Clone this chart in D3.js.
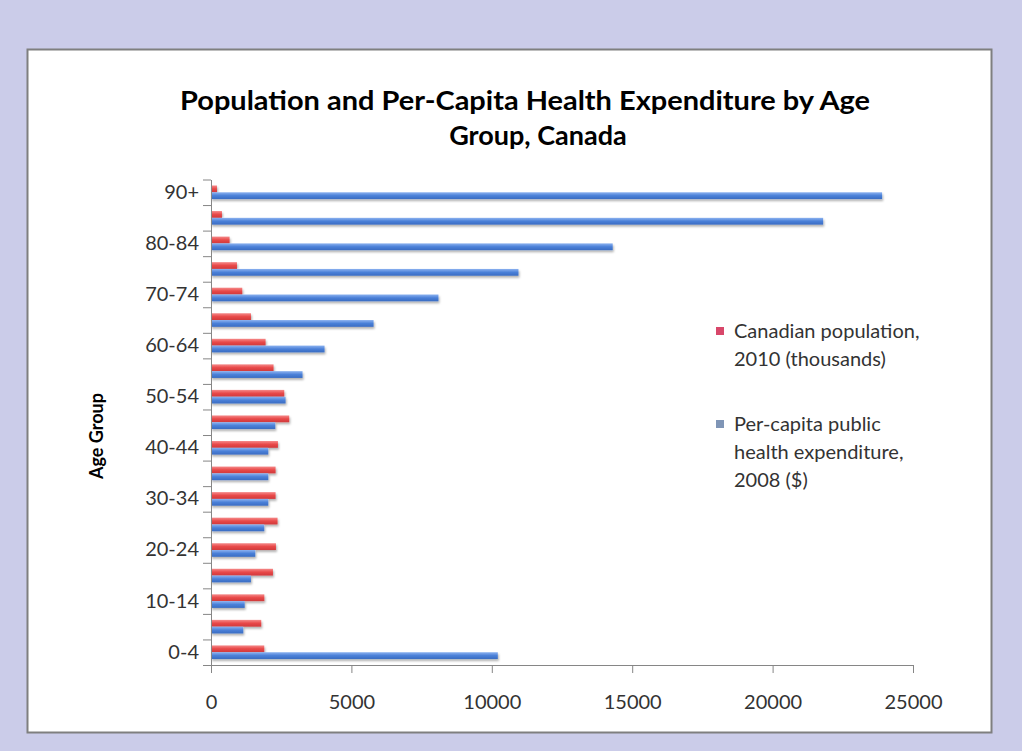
<!DOCTYPE html>
<html><head><meta charset="utf-8">
<script src="https://cdn.jsdelivr.net/npm/d3@7"></script>
<style>
html,body{margin:0;padding:0;background:#cbcce9;}
svg{display:block;}
text{font-family:Lato,"Open Sans",sans-serif;}
</style></head><body>
<svg id="c" width="1022" height="751"></svg>
<script>
const categories = ["0-4","5-9","10-14","15-19","20-24","25-29","30-34","35-39","40-44","45-49","50-54","55-59","60-64","65-69","70-74","75-79","80-84","85-89","90+"];
const population2010 = [1897,1790,1900,2206,2313,2370,2300,2300,2384,2786,2609,2228,1944,1423,1114,925,662,390,213];
const expenditure2008 = [10214,1150,1200,1423,1577,1897,2040,2040,2040,2290,2656,3260,4044,5790,8100,10950,14306,21800,23900];
const xTicks = [0,5000,10000,15000,20000,25000];
const labelCats = ["0-4","10-14","20-24","30-34","40-44","50-54","60-64","70-74","80-84","90+"];
const titleLines = ["Population and Per-Capita Health Expenditure by Age","Group, Canada"];

const svg = d3.select("#c");
const defs = svg.append("defs");
function grad(id, c1, c2, c3){
  const g = defs.append("linearGradient").attr("id",id).attr("x1",0).attr("y1",0).attr("x2",0).attr("y2",1);
  g.append("stop").attr("offset","0%").attr("stop-color",c1);
  g.append("stop").attr("offset","50%").attr("stop-color",c2);
  g.append("stop").attr("offset","100%").attr("stop-color",c3);
}
grad("gRed","#f58a8a","#e84848","#d03a3c");
grad("gBlue","#8cb2f0","#4a80d8","#3a6cc2");
const f = defs.append("filter").attr("id","sh").attr("x","-5%").attr("y","-50%").attr("width","120%").attr("height","250%");
f.append("feDropShadow").attr("dx",1).attr("dy",2).attr("stdDeviation",1).attr("flood-color","#000").attr("flood-opacity",0.3);

// panel
svg.append("rect").attr("x",27.5).attr("y",49.5).attr("width",964).attr("height",683)
  .attr("fill","#ffffff").attr("stroke","#7f7f7f").attr("stroke-width",2);

const x = d3.scaleLinear().domain([0,25000]).range([211,913]);
const y = d3.scaleBand().domain(categories.slice().reverse()).range([179.5,665]).padding(0);
const ySub = d3.scaleBand().domain([0,1]).range([0,y.bandwidth()]).paddingInner(0).paddingOuter(0.88);
const yLin = d3.scaleLinear().domain([0,categories.length]).range([665,179.5]);

const colors = ["url(#gRed)","url(#gBlue)"];
const data = categories.map((c,i)=>({cat:c, vals:[population2010[i], expenditure2008[i]]}));

const gBars = svg.append("g").attr("filter","url(#sh)");
data.forEach(d=>{
  d.vals.forEach((v,k)=>{
    gBars.append("rect")
      .attr("x",x(0)).attr("y",y(d.cat)+ySub(k))
      .attr("width",x(v)-x(0)).attr("height",ySub.bandwidth())
      .attr("fill",colors[k]);
  });
});

// axes
const axX = svg.append("g").attr("transform","translate(0,665)")
  .call(d3.axisBottom(x).tickValues(xTicks).tickFormat(d3.format("d")).tickSize(8).tickSizeOuter(0).tickPadding(22));
axX.select(".domain").attr("stroke","#868686");
axX.selectAll(".tick line").attr("stroke","#868686");
axX.selectAll("text").attr("font-size",20).attr("fill","#333").style("font-family","Lato");

const axYt = svg.append("g").attr("transform","translate(211,0)")
  .call(d3.axisLeft(yLin).tickValues(d3.range(categories.length+1)).tickFormat("").tickSize(8).tickSizeOuter(0));
axYt.select(".domain").attr("stroke","#868686");
axYt.selectAll(".tick line").attr("stroke","#868686");

const axYl = svg.append("g").attr("transform","translate(211,0)")
  .call(d3.axisLeft(y).tickValues(labelCats).tickSize(0).tickPadding(12));
axYl.select(".domain").remove();
axYl.selectAll("text").attr("font-size",20).attr("fill","#333").style("font-family","Lato");

// title
svg.append("text").attr("x",525).attr("y",110).attr("text-anchor","middle")
  .attr("font-size",27).attr("font-weight","bold").attr("fill","#000")
  .attr("textLength",690).attr("lengthAdjust","spacingAndGlyphs").text(titleLines[0]);
svg.append("text").attr("x",538).attr("y",145).attr("text-anchor","middle")
  .attr("font-size",27).attr("font-weight","bold").attr("fill","#000").text(titleLines[1]);

// y axis title
svg.append("text").attr("transform","translate(103,436) rotate(-90)").attr("text-anchor","middle")
  .attr("font-size",18).attr("font-weight","bold").attr("fill","#000").text("Age Group");

// legend
const legColors = ["#d8476a","#7f95b6"];
const legLines = [["Canadian population,","2010 (thousands)"],["Per-capita public","health expenditure,","2008 ($)"]];
const legY = [338, 431];
legLines.forEach((lines,k)=>{
  svg.append("rect").attr("x",716).attr("y",legY[k]-11).attr("width",8).attr("height",8).attr("fill",legColors[k]);
  lines.forEach((t,j)=>{
    svg.append("text").attr("x",734).attr("y",legY[k]+j*28).attr("font-size",20).attr("fill","#333").text(t);
  });
});
</script></body></html>
